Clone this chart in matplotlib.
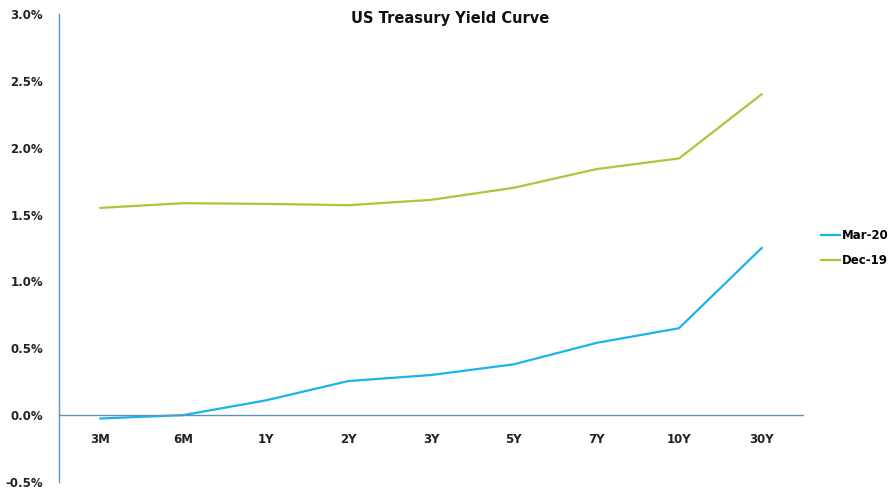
import matplotlib
matplotlib.use("Agg")
import matplotlib.pyplot as plt
from matplotlib.ticker import FuncFormatter

# tenors and yields (%)
tenors = ["3M", "6M", "1Y", "2Y", "3Y", "5Y", "7Y", "10Y", "30Y"]
mar_20 = [-0.025, 0.00, 0.11, 0.255, 0.30, 0.38, 0.54, 0.65, 1.25]
dec_19 = [1.55, 1.585, 1.58, 1.57, 1.61, 1.70, 1.84, 1.92, 2.40]

blue = "#1cb2ea"
green = "#a8c83a"
axis_col = "#5b93c2"

plt.rcParams["font.family"] = ["DejaVu Sans"]
plt.rcParams["font.weight"] = "bold"

fig = plt.figure(figsize=(8.88, 4.91), dpi=100)
ax = fig.add_axes([59 / 888, 9 / 491, 744 / 888, 468 / 491])

x = range(len(tenors))
ax.plot(x, mar_20, color=blue, lw=1.6, label="Mar-20")
ax.plot(x, dec_19, color=green, lw=1.6, label="Dec-19")

ax.set_xlim(-0.5, 8.5)
ax.set_ylim(-0.5, 3.0)
ax.set_yticks([-0.5, 0, 0.5, 1.0, 1.5, 2.0, 2.5, 3.0])
ax.yaxis.set_major_formatter(FuncFormatter(lambda v, p: f"{v:.1f}%"))
ax.set_xticks(list(x))
ax.set_xticklabels(tenors)

for s in ["top", "right"]:
    ax.spines[s].set_visible(False)
ax.spines["left"].set_color(axis_col)
ax.spines["left"].set_linewidth(1.0)
ax.spines["bottom"].set_position(("data", 0))
ax.spines["bottom"].set_color(axis_col)
ax.spines["bottom"].set_linewidth(1.0)
ax.tick_params(axis="y", length=0, pad=11.5, labelsize=8.5, labelcolor="#222222")
ax.tick_params(axis="x", length=0, pad=12.5, labelsize=8.5, labelcolor="#222222")
for lab in ax.get_xticklabels() + ax.get_yticklabels():
    lab.set_fontweight("bold")

fig.text(450 / 888, 1 - 19 / 491, "US Treasury Yield Curve", ha="center", va="center",
         fontsize=10.5, fontweight="bold", color="#111111")

ax.legend(loc="center left", bbox_to_anchor=(1.018, 0.50), frameon=False,
          handlelength=1.6, handletextpad=0.15, labelspacing=1.0,
          borderaxespad=0, prop={"weight": "bold", "size": 8.5})

fig.savefig("out.png", dpi=100)
